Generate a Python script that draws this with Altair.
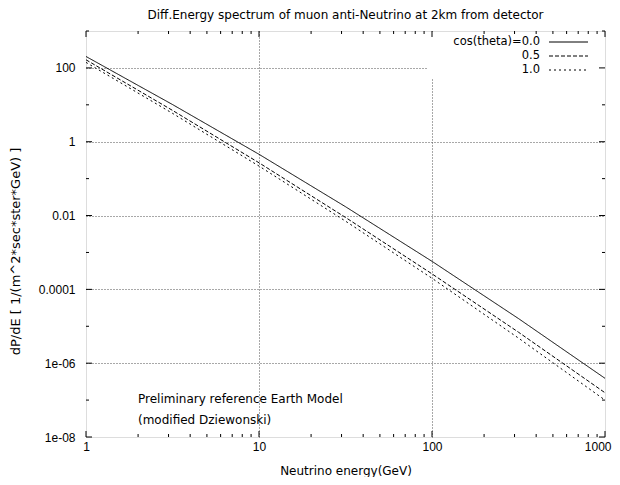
import altair as alt
import pandas as pd

# ---- data ----
energy = [1, 3.16, 10, 31.6, 100, 316, 1000]          # GeV
flux_cos00 = [204, 10.2, 0.457, 0.0174, 5.75e-4, 1.62e-5, 3.89e-7]
flux_cos05 = [166, 7.08, 0.269, 8.91e-3, 2.63e-4, 6.92e-6, 1.58e-7]
flux_cos10 = [141, 5.89, 0.219, 7.08e-3, 2.0e-4, 4.79e-6, 1.0e-7]
series = ["cos(theta)=0.0", "0.5", "1.0"]
dashes = [[1, 0], [4, 2], [2, 3]]

x_major = [1, 10, 100, 1000]
x_minor = [2, 3, 4, 5, 6, 7, 8, 9, 20, 30, 40, 50, 60, 70, 80, 90,
           200, 300, 400, 500, 600, 700, 800, 900]
y_major = [1e-8, 1e-6, 1e-4, 1e-2, 1, 100]
y_major_labels = ["1e-08", "1e-06", "0.0001", "0.01", "1", "100"]
y_minor = [1e-7, 1e-5, 1e-3, 0.1, 10, 1000]

title_text = "Diff.Energy spectrum of muon anti-Neutrino at 2km from detector"
x_title = "Neutrino energy(GeV)"
y_title = "dP/dE [ 1/(m^2*sec*ster*GeV) ]"
note_lines = ["Preliminary reference Earth Model", "(modified Dziewonski)"]

rows = []
for s, vals in zip(series, [flux_cos00, flux_cos05, flux_cos10]):
    for e, v in zip(energy, vals):
        rows.append({"energy": e, "flux": v, "cos": s})
df = pd.DataFrame(rows)

W, H = 519, 406
FONT = "DejaVu Sans"
TICKFONT = "Liberation Sans"
xscale = alt.Scale(type="log", domain=[1, 1000], nice=False)
yscale = alt.Scale(type="log", domain=[1e-8, 1000], nice=False)
dash_scale = alt.Scale(domain=series, range=dashes)

label_expr = "[" + ",".join("'%s'" % s for s in y_major_labels) + "][(round(log(datum.value)/LN10)+8)/2]"
grid_common = dict(grid=True, gridColor="#505050", gridDash=[1, 2], gridWidth=1,
                   ticks=False, domain=False, labelFlush=False,
                   labelFont=TICKFONT, labelFontSize=12, labelColor="black",
                   titleFont=FONT, titleFontWeight="normal", titleColor="black")

lines = alt.Chart(df).mark_line(color="black", strokeWidth=1, clip=True).encode(
    x=alt.X("energy:Q", scale=xscale,
            axis=alt.Axis(orient="bottom", values=x_major, format="d", labelPadding=4,
                          labelAlign={"condition": {"test": "datum.value >= 1000", "value": "right"}, "value": "center"},
                          labelOffset={"condition": {"test": "datum.value >= 1000", "value": 6}, "value": 0},
                          gridOpacity={"condition": {"test": "datum.value <= 1 || datum.value >= 1000", "value": 0}, "value": 1},
                          title=x_title, titleY=33, titleBaseline="middle", titleFontSize=12,
                          **grid_common)),
    y=alt.Y("flux:Q", scale=yscale,
            axis=alt.Axis(orient="left", values=y_major, labelExpr=label_expr, labelPadding=11,
                          gridOpacity={"condition": {"test": "datum.value <= 1e-8 || datum.value >= 1000", "value": 0}, "value": 1},
                          title=y_title, titleX=-71, titleY=220, titleAngle=-90,
                          titleAlign="center", titleBaseline="middle", titleFontSize=13,
                          **grid_common)),
    strokeDash=alt.StrokeDash("cos:N", scale=dash_scale, legend=None),
)

# white key box (hides the grid behind the key, as in the reference)
key_box = alt.Chart(pd.DataFrame({"box": [0]})).mark_rect(fill="white").encode(
    x=alt.value(342), x2=alt.value(W - 1), y=alt.value(1), y2=alt.value(47))

key_y = alt.Y("cos:N", scale=alt.Scale(type="point", domain=series, range=[11, 39], padding=0), axis=None)
key_df = pd.DataFrame({"cos": series})
key_lines = alt.Chart(key_df).mark_rule(color="black", strokeWidth=1).encode(
    x=alt.value(463), x2=alt.value(502), y=key_y,
    strokeDash=alt.StrokeDash("cos:N", scale=dash_scale, legend=None))
key_text = alt.Chart(key_df).mark_text(align="right", baseline="middle", font=FONT, fontSize=11.5,
                                        color="black").encode(x=alt.value(454), y=key_y, text="cos:N")

# inward tick marks on all four sides
def x_ticks(vals, y1, y2):
    return alt.Chart(pd.DataFrame({"tick": vals})).mark_rule(color="black", strokeWidth=1).encode(
        x=alt.X("tick:Q", scale=xscale, axis=None), y=alt.value(y1), y2=alt.value(y2))

def y_ticks(vals, x1, x2):
    return alt.Chart(pd.DataFrame({"tick": vals})).mark_rule(color="black", strokeWidth=1).encode(
        y=alt.Y("tick:Q", scale=yscale, axis=None), x=alt.value(x1), x2=alt.value(x2))

tick_layers = [
    x_ticks(x_major, H, H - 6), x_ticks(x_minor, H, H - 3),
    x_ticks(x_major, 0, 6), x_ticks(x_minor, 0, 3),
    y_ticks(y_major, 0, 6), y_ticks(y_minor, 0, 3),
    y_ticks(y_major, W, W - 6), y_ticks(y_minor, W, W - 3),
]

note = alt.Chart(pd.DataFrame({"note": ["\n".join(note_lines)]})).mark_text(
    align="left", baseline="top", lineBreak="\n", lineHeight=21, font=FONT, fontSize=12, color="black"
).encode(x=alt.value(52), y=alt.value(363), text="note:N")

chart = alt.layer(lines, key_box, key_lines, key_text, *tick_layers, note).resolve_scale(
    x="independent", y="independent"
).resolve_axis(x="independent", y="independent").properties(
    width=W, height=H,
    padding={"left": 78, "top": 23, "right": 7, "bottom": 40},
    autosize=alt.AutoSizeParams(type="none"),
    title=alt.TitleParams(title_text, font=FONT, fontSize=12, fontWeight="normal", color="black",
                          anchor="middle", offset=9),
).configure_view(stroke="black", strokeWidth=1).configure(background="white")

chart.save("out.html", embed_options={"renderer": "svg", "actions": False})
